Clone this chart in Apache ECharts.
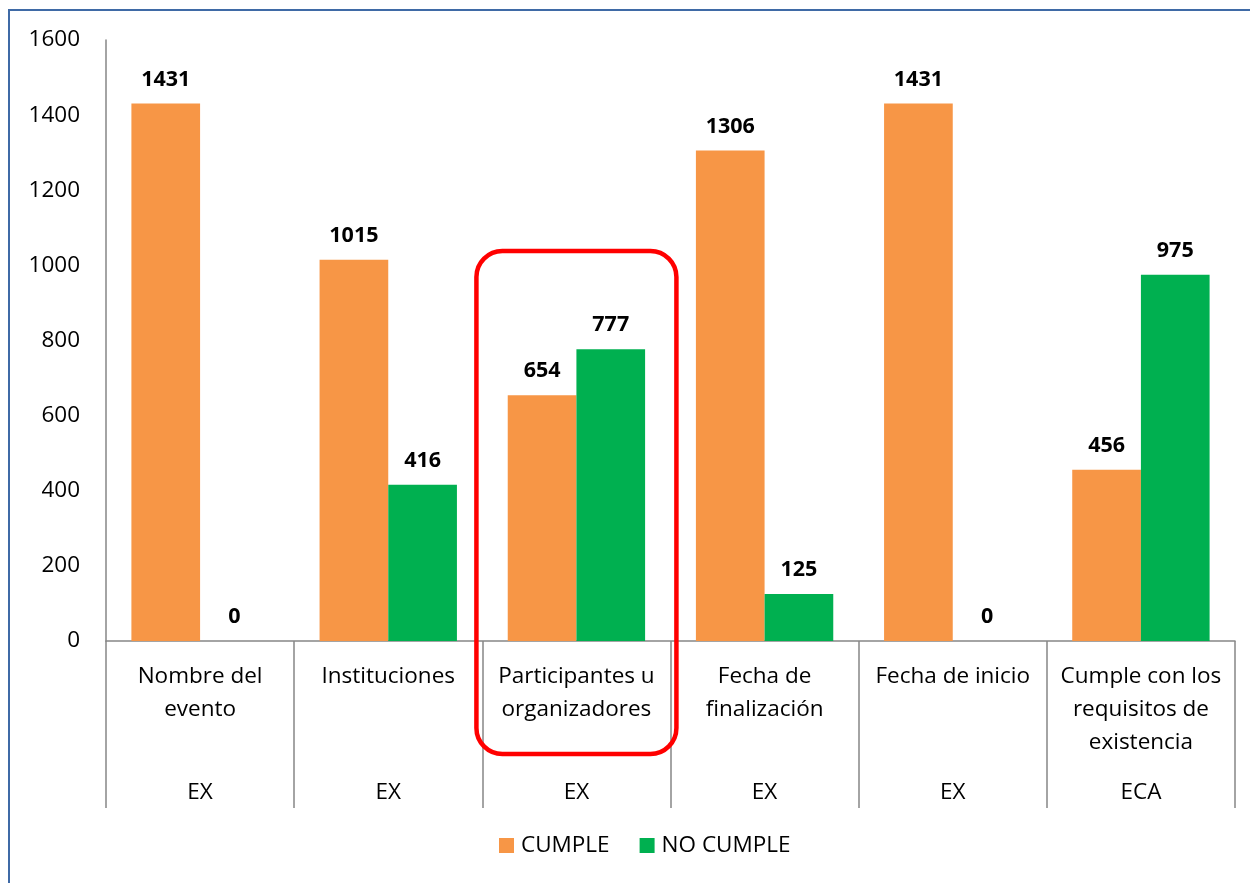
<!DOCTYPE html>
<html>
<head>
<meta charset="utf-8">
<script src="https://cdn.jsdelivr.net/npm/echarts@6/dist/echarts.min.js"></script>
<style>
  html, body { margin: 0; padding: 0; background: #fff; }
  #chart { width: 1250px; height: 883px; }
</style>
</head>
<body>
<div id="chart"></div>
<script>
// data
const categories = [
  'Nombre del\nevento',
  'Instituciones',
  'Participantes u\norganizadores',
  'Fecha de\nfinalización',
  'Fecha de inicio',
  'Cumple con los\nrequisitos de\nexistencia'
];
const groups = ['EX', 'EX', 'EX', 'EX', 'EX', 'ECA'];
const cumple = [1431, 1015, 654, 1306, 1431, 456];
const noCumple = [0, 416, 777, 125, 0, 975];
const yTicks = [0, 1600, 200]; // min, max, interval

const FONT = '"Open Sans", Lato, sans-serif';
const axisGray = '#868686';

const chart = echarts.init(document.getElementById('chart'));

const labelStyle = {
  show: true,
  position: 'top',
  distance: 13,
  color: '#000',
  fontWeight: 'bold',
  fontSize: 21.5,
  fontFamily: FONT
};

const option = {
  animation: false,
  backgroundColor: '#fff',
  grid: { left: 106, right: 15, top: 40, bottom: 242 },
  legend: {
    bottom: 21,
    left: 494,
    itemWidth: 15,
    itemHeight: 15,
    itemGap: 30,
    icon: 'rect',
    textStyle: { fontSize: 22.5, fontFamily: FONT, color: '#000', padding: [0, 0, 0, 2] },
    data: ['CUMPLE', 'NO CUMPLE']
  },
  xAxis: [
    {
      type: 'category',
      data: categories,
      position: 'bottom',
      axisLine: { lineStyle: { color: axisGray, width: 1.5 } },
      axisTick: { show: true, interval: 0, length: 167, lineStyle: { color: axisGray, width: 1.5 } },
      axisLabel: {
        interval: 0,
        margin: 19,
        color: '#000',
        fontSize: 22.5,
        lineHeight: 33,
        fontFamily: FONT,
        verticalAlign: 'top'
      }
    },
    {
      type: 'category',
      data: groups,
      position: 'bottom',
      axisLine: { show: false },
      axisTick: { show: false },
      axisLabel: {
        interval: 0,
        margin: 140,
        color: '#000',
        fontSize: 22.5,
        fontFamily: FONT
      }
    }
  ],
  yAxis: {
    type: 'value',
    min: yTicks[0],
    max: yTicks[1],
    interval: yTicks[2],
    axisLine: { show: true, lineStyle: { color: axisGray, width: 1.5 } },
    axisTick: { show: false },
    splitLine: { show: false },
    axisLabel: {
      margin: 26,
      color: '#000',
      fontSize: 22.5,
      fontFamily: FONT,
      formatter: v => String(v)
    }
  },
  series: [
    {
      name: 'CUMPLE',
      type: 'bar',
      data: cumple,
      barGap: '0%',
      barCategoryGap: '27%',
      itemStyle: { color: '#F79646' },
      label: labelStyle
    },
    {
      name: 'NO CUMPLE',
      type: 'bar',
      data: noCumple,
      itemStyle: { color: '#00B050' },
      label: labelStyle
    }
  ]
};

chart.setOption(option);

// outer frame and highlight box around "Participantes u organizadores"
const cx = chart.convertToPixel({ xAxisIndex: 0 }, categories[2]);
chart.setOption({
  graphic: [
    {
      type: 'rect',
      z: 100,
      shape: { x: 9, y: 10, width: 1260, height: 900 },
      style: { fill: 'none', stroke: '#3F6AA6', lineWidth: 2 }
    },
    {
      type: 'rect',
      z: 100,
      shape: { x: cx - 100, y: 251, width: 200, height: 503, r: 26 },
      style: { fill: 'none', stroke: '#FF0000', lineWidth: 4.5 }
    }
  ]
});
</script>
</body>
</html>
